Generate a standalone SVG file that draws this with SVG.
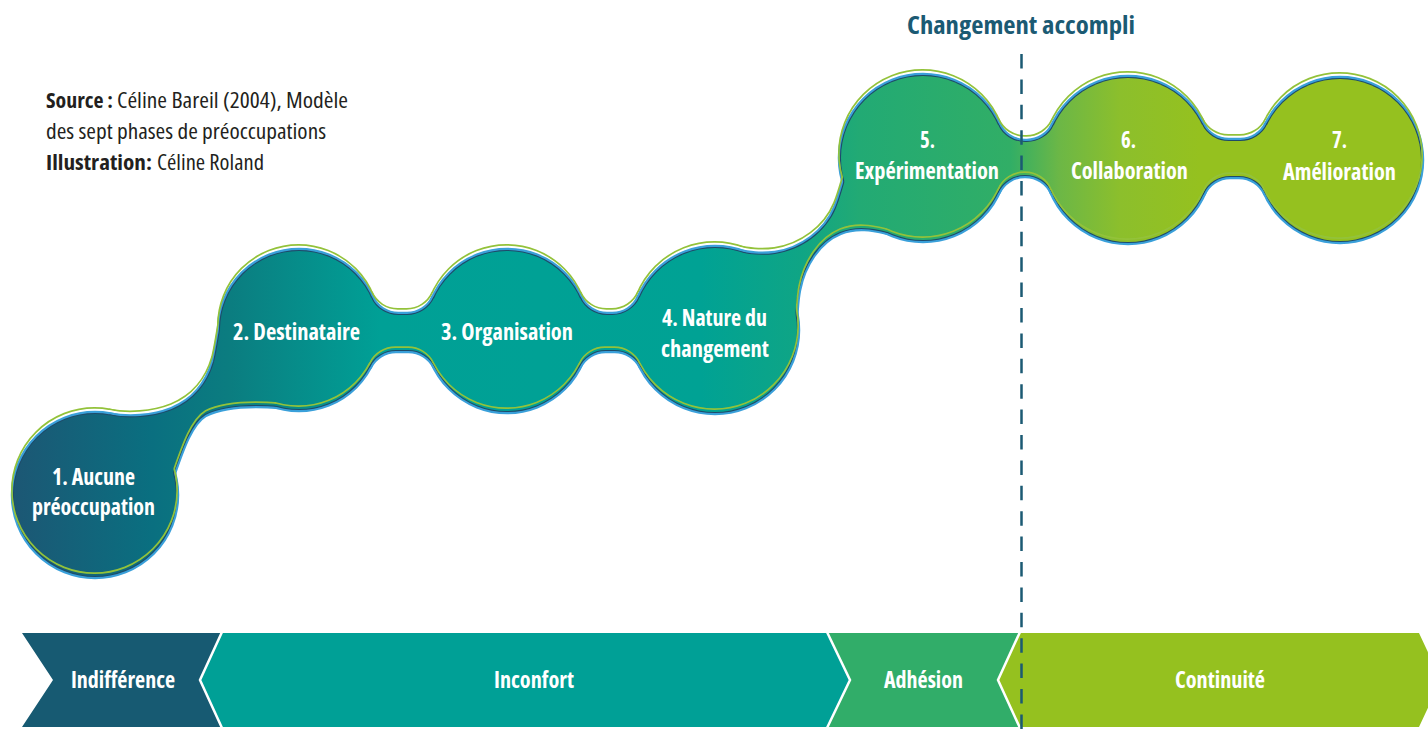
<svg xmlns="http://www.w3.org/2000/svg" xmlns:xlink="http://www.w3.org/1999/xlink" width="1428" height="739" viewBox="0 0 1428 739">
  <style>
    .edge-outer { fill: none; stroke: #3aa0da; stroke-width: 6.5; stroke-linejoin: round; }
    .edge-inner { fill: none; stroke: #1d4b69; stroke-width: 2.2; stroke-linejoin: round; }
    .body { fill: url(#chainGrad); stroke: none; }
    .label { font-family: "Open Sans", "Liberation Sans", sans-serif; font-weight: 700; font-stretch: condensed; font-size: 23px; fill: #ffffff; }
    .stage { font-family: "Open Sans", "Liberation Sans", sans-serif; font-weight: 700; font-stretch: condensed; font-size: 23px; fill: #ffffff; }
    .note { font-family: "Open Sans", "Liberation Sans", sans-serif; font-stretch: condensed; font-size: 22px; fill: #231f20; }
    .note-b { font-weight: 700; }
    .title { font-family: "Open Sans", "Liberation Sans", sans-serif; font-weight: 700; font-stretch: condensed; font-size: 24px; fill: #1b5a73; }
    .sep { fill: none; stroke: #ffffff; stroke-width: 2.5; }
  </style>
  <defs>
    <linearGradient id="chainGrad" gradientUnits="userSpaceOnUse" x1="14" y1="0" x2="1421" y2="0">
      <stop offset="0" stop-color="#1c5774"/>
      <stop offset="0.097" stop-color="#0a6f80"/>
      <stop offset="0.154" stop-color="#0b7d80"/>
      <stop offset="0.26" stop-color="#00a096"/>
      <stop offset="0.488" stop-color="#00a294"/>
      <stop offset="0.559" stop-color="#0fa585"/>
      <stop offset="0.601" stop-color="#22aa74"/>
      <stop offset="0.708" stop-color="#31ae66"/>
      <stop offset="0.743" stop-color="#6cb746"/>
      <stop offset="0.786" stop-color="#8cbf2c"/>
      <stop offset="0.843" stop-color="#95c11f"/>
      <stop offset="1" stop-color="#95c11f"/>
    </linearGradient>

    <!-- bubble discs -->
    <circle id="c1" cx="95" cy="495" r="81"/>
    <circle id="c2" cx="299" cy="330" r="79"/>
    <circle id="c3" cx="507" cy="331" r="80"/>
    <circle id="c4" cx="715" cy="330" r="82"/>
    <circle id="c5" cx="923" cy="158" r="82"/>
    <circle id="c6" cx="1128" cy="160" r="82"/>
    <circle id="c7" cx="1340" cy="160" r="81"/>

    <!-- links between discs: S-shaped bands and filleted necks (fillet radius 30) -->
    <path id="l12" d="M110,415.6 C128,419 152,418 172,410 C194,401 208,383 214,362 C217,350 218.5,337 221.5,322 L280,340 L280,406 C255,404 225,404 205,414 C190,423 181,450 172,476 L120,460 Z"/>
    <path id="l23" d="M370.95,297.4 A30,30 0 0 0 398.3,315 L407.1,315 A30,30 0 0 0 434.3,297.55 L435.4,366.6 A30,30 0 0 0 408.5,350 L395.9,350 A30,30 0 0 0 369.2,366.2 Z"/>
    <path id="l34" d="M579.7,297.5 A30,30 0 0 0 606.9,315 L612.4,315 A30,30 0 0 0 639.9,297.05 L641.6,366.6 A30,30 0 0 0 614.8,350 L605.5,350 A30,30 0 0 0 578.6,366.6 Z"/>
    <path id="l45" d="M735,251.5 C750,254.3 760,256 775,254 C802,250 826,232 836,208 C840,198 842,190 845,180 L880,200 L893,233 C878,230 860,224 840,232 C818,241 803,265 798,290 C796,300 796,308 795,318 L760,300 Z"/>
    <path id="l56" d="M997.75,124.3 A30,30 0 0 0 1025.1,142 L1026.8,142 A30,30 0 0 0 1053.9,124.9 L1052.9,192.9 A30,30 0 0 0 1025.44,175 L1024.66,175 A30,30 0 0 0 997.4,192.4 Z"/>
    <path id="l67" d="M1201.7,124.1 A30,30 0 0 0 1228.7,141 L1240.4,141 A30,30 0 0 0 1267.3,124.25 L1266.3,193.6 A30,30 0 0 0 1239,176 L1230.1,176 A30,30 0 0 0 1202.75,193.7 Z"/>

    <!-- whole chain silhouette, reused for the rims -->
    <g id="chainShape">
      <use xlink:href="#c1"/><use xlink:href="#c2"/><use xlink:href="#c3"/><use xlink:href="#c4"/>
      <use xlink:href="#c5"/><use xlink:href="#c6"/><use xlink:href="#c7"/>
      <use xlink:href="#l12"/><use xlink:href="#l23"/><use xlink:href="#l34"/>
      <use xlink:href="#l45"/><use xlink:href="#l56"/><use xlink:href="#l67"/>
    </g>

    <!-- thin ring just outside the silhouette, lifted a few pixels -->
    <mask id="rimMask" maskUnits="userSpaceOnUse" x="0" y="0" width="1428" height="739">
      <g transform="translate(-0.5,-4.5)">
        <use xlink:href="#chainShape" fill="#ffffff" stroke="#ffffff" stroke-width="5" stroke-linejoin="round"/>
        <use xlink:href="#chainShape" fill="#000000" stroke="#000000" stroke-width="1.6" stroke-linejoin="round"/>
      </g>
    </mask>
  </defs>

  <rect x="0" y="0" width="1428" height="739" fill="#ffffff"/>

  <!-- credits -->
  <g id="credits">
    <text class="note note-b" x="46" y="108" textLength="67" lengthAdjust="spacingAndGlyphs">Source :</text>
    <text class="note" x="117" y="108" textLength="231" lengthAdjust="spacingAndGlyphs">Céline Bareil (2004), Modèle</text>
    <text class="note" x="46" y="139" textLength="280" lengthAdjust="spacingAndGlyphs">des sept phases de préoccupations</text>
    <text class="note note-b" x="46" y="170" textLength="106" lengthAdjust="spacingAndGlyphs">Illustration:</text>
    <text class="note" x="157" y="170" textLength="107" lengthAdjust="spacingAndGlyphs">Céline Roland</text>
  </g>

  <!-- chain edge -->
  <g id="chain-edge">
    <use xlink:href="#chainShape" class="edge-outer"/>
    <use xlink:href="#chainShape" class="edge-inner"/>
  </g>

  <!-- connectors between phases -->
  <g id="connectors">
    <use xlink:href="#l12" class="body"/>
    <use xlink:href="#l23" class="body"/>
    <use xlink:href="#l34" class="body"/>
    <use xlink:href="#l45" class="body"/>
    <use xlink:href="#l56" class="body"/>
    <use xlink:href="#l67" class="body"/>
  </g>

  <!-- phases -->
  <g id="phase-1">
    <use xlink:href="#c1" class="body"/>
    <text class="label" x="52" y="485" textLength="83" lengthAdjust="spacingAndGlyphs">1. Aucune</text>
    <text class="label" x="32" y="515" textLength="123" lengthAdjust="spacingAndGlyphs">préoccupation</text>
  </g>
  <g id="phase-2">
    <use xlink:href="#c2" class="body"/>
    <text class="label" x="233" y="340" textLength="127" lengthAdjust="spacingAndGlyphs">2. Destinataire</text>
  </g>
  <g id="phase-3">
    <use xlink:href="#c3" class="body"/>
    <text class="label" x="441" y="340" textLength="132" lengthAdjust="spacingAndGlyphs">3. Organisation</text>
  </g>
  <g id="phase-4">
    <use xlink:href="#c4" class="body"/>
    <text class="label" x="662" y="326" textLength="105" lengthAdjust="spacingAndGlyphs">4. Nature du</text>
    <text class="label" x="661" y="357" textLength="108" lengthAdjust="spacingAndGlyphs">changement</text>
  </g>
  <g id="phase-5">
    <use xlink:href="#c5" class="body"/>
    <text class="label" x="920" y="148" textLength="15" lengthAdjust="spacingAndGlyphs">5.</text>
    <text class="label" x="855" y="179" textLength="144" lengthAdjust="spacingAndGlyphs">Expérimentation</text>
  </g>
  <g id="phase-6">
    <use xlink:href="#c6" class="body"/>
    <text class="label" x="1121" y="148" textLength="15" lengthAdjust="spacingAndGlyphs">6.</text>
    <text class="label" x="1071" y="179" textLength="117" lengthAdjust="spacingAndGlyphs">Collaboration</text>
  </g>
  <g id="phase-7">
    <use xlink:href="#c7" class="body"/>
    <text class="label" x="1332" y="148" textLength="15" lengthAdjust="spacingAndGlyphs">7.</text>
    <text class="label" x="1283" y="180" textLength="113" lengthAdjust="spacingAndGlyphs">Amélioration</text>
  </g>

  <!-- light green rim over the chain -->
  <rect id="chain-rim" x="0" y="0" width="1428" height="739" fill="#93c23a" mask="url(#rimMask)"/>

  <!-- stage bar -->
  <g id="stage-bar">
    <g id="stage-indifference">
      <polygon fill="#175a72" points="22,633 222,633 200,680 222,727 22,727 53,680"/>
      <text class="stage" x="71" y="688" textLength="104" lengthAdjust="spacingAndGlyphs">Indifférence</text>
    </g>
    <g id="stage-inconfort">
      <polygon fill="#00a096" points="222,633 827,633 850,680 827,727 222,727 200,680"/>
      <text class="stage" x="494" y="688" textLength="80" lengthAdjust="spacingAndGlyphs">Inconfort</text>
    </g>
    <g id="stage-adhesion">
      <polygon fill="#31ad69" points="827,633 1020,633 998,680 1020,727 827,727 850,680"/>
      <text class="stage" x="884" y="688" textLength="79" lengthAdjust="spacingAndGlyphs">Adhésion</text>
    </g>
    <g id="stage-continuite">
      <polygon fill="#95c11f" points="1020,633 1419,633 1441,680 1419,727 1020,727 998,680"/>
      <text class="stage" x="1175" y="688" textLength="90" lengthAdjust="spacingAndGlyphs">Continuité</text>
    </g>
    <polyline class="sep" points="222,632 200,680 222,728"/>
    <polyline class="sep" points="827,632 850,680 827,728"/>
    <polyline class="sep" points="1020,632 998,680 1020,728"/>
  </g>

  <!-- milestone -->
  <g id="milestone">
    <text class="title" x="907" y="34" textLength="228" lengthAdjust="spacingAndGlyphs">Changement accompli</text>
    <line x1="1021.5" y1="54" x2="1021.5" y2="739" stroke="#1b5a73" stroke-width="2.5" stroke-dasharray="14.5 10.9"/>
  </g>
</svg>
